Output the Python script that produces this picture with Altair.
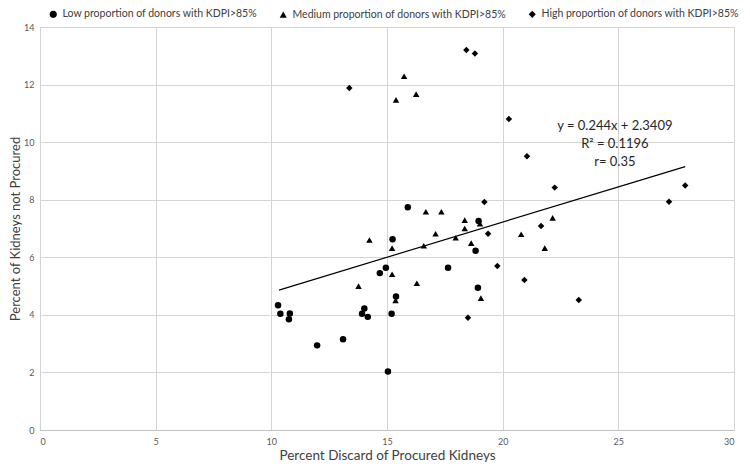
import altair as alt
import pandas as pd

low_x = [15.90, 15.24, 14.95, 14.69, 15.39, 10.29, 10.39, 10.80, 10.76, 14.02,
         13.92, 14.17, 15.20, 11.98, 13.10, 15.04, 18.96, 18.83, 17.64, 18.93]
low_y = [7.74, 6.63, 5.64, 5.45, 4.64, 4.33, 4.04, 4.05, 3.85, 4.22,
         4.04, 3.93, 4.04, 2.94, 3.15, 2.03, 7.26, 6.23, 5.64, 4.94]

med_x = [15.74, 15.39, 16.26, 16.68, 17.35, 14.24, 15.22, 17.10, 16.59, 15.22, 13.77,
         16.29, 15.37, 18.36, 19.02, 18.36, 17.97, 18.64, 20.80, 22.16, 21.82, 19.06]
med_y = [12.29, 11.47, 11.67, 7.58, 7.58, 6.60, 6.32, 6.82, 6.40, 5.41, 5.00,
         5.10, 4.50, 7.29, 7.17, 7.00, 6.68, 6.49, 6.80, 7.37, 6.32, 4.58]

high_x = [13.37, 18.43, 18.80, 20.27, 19.21, 21.05, 22.25, 27.19, 27.89, 21.66,
          19.37, 19.77, 20.94, 23.29, 18.50]
high_y = [11.88, 13.20, 13.08, 10.80, 7.92, 9.51, 8.42, 7.93, 8.49, 7.09,
          6.82, 5.70, 5.21, 4.52, 3.90]

groups = ["Low proportion of donors with KDPI>85%",
          "Medium proportion of donors with KDPI>85%",
          "High proportion of donors with KDPI>85%"]
shapes = ["circle", "triangle-up", "diamond"]

trend_x = [10.33, 27.89]
trend_y = [4.86, 9.15]

note_lines = ["y = 0.244x + 2.3409", "R\u00b2 = 0.1196", "r= 0.35"]
note_x = [24.85, 24.85, 24.85]
note_y = [10.55, 9.95, 9.32]

x_ticks = [0, 5, 10, 15, 20, 25, 30]
y_ticks = [0, 2, 4, 6, 8, 10, 12, 14]

rows = []
for gx, gy, g in [(low_x, low_y, groups[0]), (med_x, med_y, groups[1]), (high_x, high_y, groups[2])]:
    for a, b in zip(gx, gy):
        rows.append({"x": a, "y": b, "group": g})
pts = pd.DataFrame(rows)
trend = pd.DataFrame({"x": trend_x, "y": trend_y})
notes = pd.DataFrame({"x": note_x, "y": note_y, "t": note_lines})

FONT = "Lato"

xs = alt.Scale(domain=[0, 30], nice=False, zero=False)
ys = alt.Scale(domain=[0, 14], nice=False, zero=False)

xaxis = alt.Axis(values=x_ticks, title="Percent Discard of Procured Kidneys",
                 grid=True, gridColor="#d4d4d4", domain=True, domainColor="#bfbfbf",
                 ticks=False, labelFontSize=9, labelColor="#595959", labelPadding=7,
                 titleFontSize=13.5, titleFontWeight="normal", titleColor="#404040",
                 titlePadding=2, labelFont=FONT, titleFont=FONT)
yaxis = alt.Axis(values=y_ticks, title="Percent of Kidneys not Procured",
                 grid=True, gridColor="#d4d4d4", domain=False,
                 ticks=False, labelFontSize=9, labelColor="#595959", labelPadding=6,
                 titleFontSize=13, titleFontWeight="normal", titleColor="#404040",
                 titlePadding=1, labelFont=FONT, titleFont=FONT)

points = alt.Chart(pts).mark_point(filled=True, opacity=1, color="black", size=42).encode(
    x=alt.X("x:Q", scale=xs, axis=xaxis),
    y=alt.Y("y:Q", scale=ys, axis=yaxis),
    shape=alt.Shape("group:N", scale=alt.Scale(domain=groups, range=shapes),
                    legend=alt.Legend(title=None, orient="none", legendX=8, legendY=-18,
                                      direction="horizontal", labelFontSize=10.5,
                                      labelFont=FONT, labelColor="#404040", labelLimit=0,
                                      symbolFillColor="black", symbolStrokeColor="black",
                                      symbolSize=50, symbolOpacity=1,
                                      columnPadding=18, labelOffset=4)),
)

line = alt.Chart(trend).mark_line(color="black", strokeWidth=1.2).encode(
    x=alt.X("x:Q", scale=xs), y=alt.Y("y:Q", scale=ys))

text = alt.Chart(notes).mark_text(fontSize=13, font=FONT, color="#262626", align="center").encode(
    x=alt.X("x:Q", scale=xs), y=alt.Y("y:Q", scale=ys), text="t:N")

chart = alt.layer(points, line, text).properties(
    width=694, height=403,
    autosize=alt.AutoSizeParams(type="none"),
    padding={"left": 32, "top": 19, "right": 8, "bottom": 36},
).configure_view(stroke=None).configure(background="white")

chart.save("out.html", embed_options={"renderer": "svg", "actions": False})
